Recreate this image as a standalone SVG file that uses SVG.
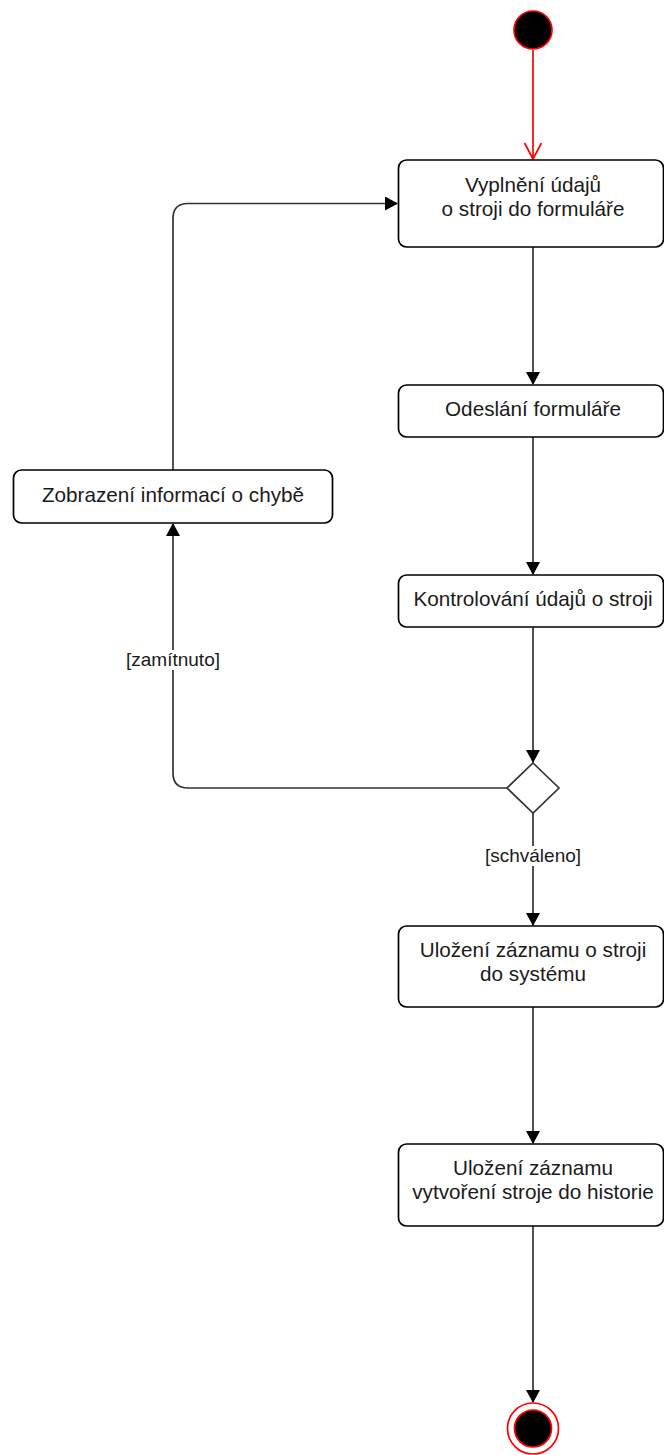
<svg xmlns="http://www.w3.org/2000/svg" width="664" height="1455" viewBox="0 0 664 1455">
  <style>
    .node { fill: #ffffff; stroke: #000000; stroke-width: 1.7; }
    .lbl { font-family: "Liberation Sans", Arial, Helvetica, sans-serif; font-size: 20.7px; fill: #1a1a1a; text-anchor: middle; }
    .edge { fill: none; stroke: #333333; stroke-width: 1.7; }
    .guard { font-family: "Liberation Sans", Arial, Helvetica, sans-serif; font-size: 19px; fill: #1a1a1a; text-anchor: middle; }
    .guard-bg { fill: #ffffff; stroke: none; }
  </style>
  <defs>
    <marker id="block" markerUnits="userSpaceOnUse" markerWidth="14" markerHeight="14" refX="12" refY="7" orient="auto" viewBox="0 0 14 14">
      <path d="M0,0 L13,7 L0,14 Z" fill="#000000"/>
    </marker>
    <marker id="open" markerUnits="userSpaceOnUse" markerWidth="20" markerHeight="20" refX="17" refY="9" orient="auto" viewBox="0 0 20 18">
      <path d="M1,0.5 L17,9 L1,17.5" fill="none" stroke="#ff0000" stroke-width="1.7"/>
    </marker>
  </defs>

  <!-- transitions -->
  <g id="connectors">
    <path class="edge" d="M533,50 L533,159" style="stroke:#ff0000" marker-end="url(#open)"/>
    <path class="edge" d="M533,247 L533,384" marker-end="url(#block)"/>
    <path class="edge" d="M533,437 L533,574" marker-end="url(#block)"/>
    <path class="edge" d="M533,627 L533,762" marker-end="url(#block)"/>
    <path class="edge" d="M507,788 L188,788 Q173,788 173,773 L173,524" marker-end="url(#block)"/>
    <path class="edge" d="M173,470 L173,218.5 Q173,203.5 188,203.5 L397,203.5" marker-end="url(#block)"/>
    <path class="edge" d="M533,813 L533,925" marker-end="url(#block)"/>
    <path class="edge" d="M533,1007 L533,1143" marker-end="url(#block)"/>
    <path class="edge" d="M533,1226 L533,1402" marker-end="url(#block)"/>
    <g id="guard-rejected">
      <rect class="guard-bg" x="126" y="650" width="94" height="20"/>
      <text class="guard" x="173" y="666">[zamítnuto]</text>
    </g>
    <g id="guard-approved">
      <rect class="guard-bg" x="485" y="846" width="96" height="20"/>
      <text class="guard" x="533" y="862">[schváleno]</text>
    </g>
  </g>

  <g id="start">
    <circle cx="533" cy="30" r="19" fill="#000000" stroke="#ff0000" stroke-width="1.7"/>
  </g>

  <g id="fill-form">
    <rect class="node" x="398.5" y="160" width="265" height="87" rx="8"/>
    <text class="lbl" x="533" y="192">Vyplnění údajů</text>
    <text class="lbl" x="533" y="216">o stroji do formuláře</text>
  </g>

  <g id="send-form">
    <rect class="node" x="398.5" y="385" width="265" height="52" rx="8"/>
    <text class="lbl" x="533" y="416">Odeslání formuláře</text>
  </g>

  <g id="check-data">
    <rect class="node" x="398.5" y="575" width="265" height="52" rx="8"/>
    <text class="lbl" x="533" y="606">Kontrolování údajů o stroji</text>
  </g>

  <g id="decision">
    <polygon points="533,763 559,788 533,813 507,788" fill="#ffffff" stroke="#333333" stroke-width="1.7"/>
  </g>

  <g id="show-error">
    <rect class="node" x="13.5" y="470" width="319" height="53" rx="8"/>
    <text class="lbl" x="173" y="502">Zobrazení informací o chybě</text>
  </g>

  <g id="save-record">
    <rect class="node" x="398.5" y="926" width="265" height="81" rx="8"/>
    <text class="lbl" x="533" y="957">Uložení záznamu o stroji</text>
    <text class="lbl" x="533" y="981">do systému</text>
  </g>

  <g id="save-history">
    <rect class="node" x="398.5" y="1144" width="265" height="82" rx="8"/>
    <text class="lbl" x="533" y="1175">Uložení záznamu</text>
    <text class="lbl" x="533" y="1199">vytvoření stroje do historie</text>
  </g>

  <g id="end">
    <circle cx="533" cy="1428.5" r="25.5" fill="#ffffff" stroke="#ff0000" stroke-width="1.7"/>
    <circle cx="533" cy="1428.5" r="18.5" fill="#000000" stroke="#ff0000" stroke-width="1.7"/>
  </g>
</svg>
